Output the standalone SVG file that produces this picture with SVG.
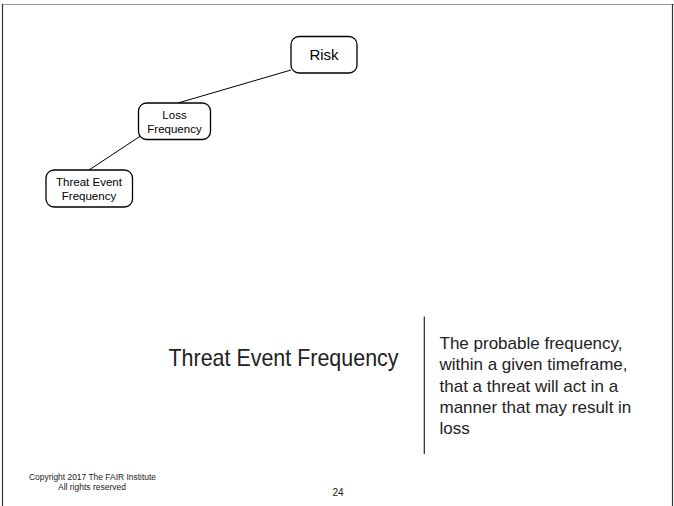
<svg xmlns="http://www.w3.org/2000/svg" width="674" height="506" viewBox="0 0 674 506">
<style>
.node rect{fill:#fff;stroke:#000;stroke-width:1.3}
.nt{font-family:"Liberation Sans",Arial,sans-serif;fill:#000;text-anchor:middle}
.conn line{stroke:#000;stroke-width:1}
.body{font-family:"Liberation Sans",Arial,sans-serif;fill:#222}
.foot{font-family:"Liberation Sans",Arial,sans-serif;fill:#222}
</style>
<rect width="674" height="506" fill="#fff"/>
<line x1="2" y1="4.5" x2="674" y2="4.5" stroke="#999" stroke-width="1"/>
<line x1="2.5" y1="4" x2="2.5" y2="506" stroke="#333" stroke-width="1.2"/>
<line x1="672.5" y1="4" x2="672.5" y2="506" stroke="#333" stroke-width="1.2"/>
<g class="conn" id="connectors">
<line x1="291" y1="70" x2="178" y2="103"/>
<line x1="142" y1="135" x2="89" y2="170"/>
</g>
<g class="node" id="risk">
<rect x="291" y="36.5" width="66" height="36.5" rx="8"/>
<text class="nt" x="324" y="60" font-size="15">Risk</text>
</g>
<g class="node" id="loss-frequency">
<rect x="138.5" y="103" width="72" height="36.5" rx="8"/>
<text class="nt" x="174.5" y="119" font-size="11.5">Loss</text>
<text class="nt" x="174.5" y="132.5" font-size="11.5">Frequency</text>
</g>
<g class="node" id="threat-event-frequency">
<rect x="46" y="170" width="86.5" height="37" rx="8"/>
<text class="nt" x="89" y="186" font-size="11.5">Threat Event</text>
<text class="nt" x="89" y="200" font-size="11.5">Frequency</text>
</g>
<text class="body" x="168.5" y="366" font-size="24" textLength="230" lengthAdjust="spacingAndGlyphs">Threat Event Frequency</text>
<line x1="424.3" y1="316.5" x2="424.3" y2="454" stroke="#222" stroke-width="1.2"/>
<g class="body" font-size="17">
<text x="439.5" y="349">The probable frequency,</text>
<text x="439.5" y="370">within a given timeframe,</text>
<text x="439.5" y="392">that a threat will act in a</text>
<text x="439.5" y="413">manner that may result in</text>
<text x="439.5" y="434">loss</text>
</g>
<text class="foot" x="29" y="480" font-size="8.5" textLength="127" lengthAdjust="spacingAndGlyphs">Copyright 2017 The FAIR Institute</text>
<text class="foot" x="92" y="490" font-size="8.5" text-anchor="middle">All rights reserved</text>
<text class="foot" x="338" y="496" font-size="10" text-anchor="middle">24</text>
</svg>
